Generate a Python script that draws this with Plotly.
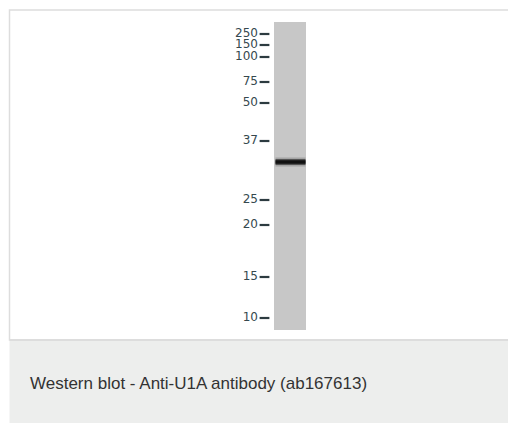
import plotly.graph_objects as go

# Ladder (molecular weight markers, kDa) and their migration distance on the blot
marker_kda = ["250", "150", "100", "75", "50", "37", "25", "20", "15", "10"]
marker_migration = [34, 45, 57, 82, 103, 141, 200, 225, 277, 318]

# Detected band (U1A, ~31 kDa)
band_migration = [162]

lane_start = 22
lane_end = 330

caption = "Western blot - Anti-U1A antibody (ab167613)"

W, H = 508, 423
fig = go.Figure()

# lane
fig.add_trace(go.Bar(x=[290], y=[lane_end - lane_start], base=[lane_start], width=[32],
                     marker=dict(color="#c7c7c7", line=dict(width=0)),
                     hoverinfo="skip", showlegend=False))

# band (soft halo + dark core)
for w, c in [(9, "rgba(60,60,60,0.25)"), (6, "rgba(30,30,30,0.6)"), (3.5, "#111111")]:
    fig.add_trace(go.Scatter(x=[275.5, 305.5], y=band_migration * 2, mode="lines",
                             line=dict(color=c, width=w), hoverinfo="skip", showlegend=False))

# ladder ticks
fig.add_trace(go.Scatter(x=[264.5] * len(marker_migration), y=marker_migration, mode="markers",
                         marker=dict(symbol="line-ew", size=7, line=dict(width=2.2, color="#2c3b40")),
                         hoverinfo="skip", showlegend=False))
# ladder labels
fig.add_trace(go.Scatter(x=[258] * len(marker_migration), y=marker_migration, mode="text",
                         text=marker_kda, textposition="middle left",
                         textfont=dict(family="DejaVu Sans", size=12, color="#35484e"),
                         hoverinfo="skip", showlegend=False))

shapes = [
    dict(type="rect", x0=9.5, x1=W + 5, y0=10, y1=340, line=dict(color="#dddddd", width=1.5),
         fillcolor="rgba(0,0,0,0)", layer="below"),
    dict(type="rect", x0=9.5, x1=W + 5, y0=340.5, y1=H + 5, line=dict(width=0),
         fillcolor="#edeeed", layer="below"),
    dict(type="line", x0=9.5, x1=W + 5, y0=340, y1=340, line=dict(color="#dddddd", width=2)),
]

fig.update_layout(
    width=W, height=H, margin=dict(l=0, r=0, t=0, b=0),
    paper_bgcolor="white", plot_bgcolor="white",
    xaxis=dict(range=[0, W], visible=False, fixedrange=True),
    yaxis=dict(range=[H, 0], visible=False, fixedrange=True),
    shapes=shapes, bargap=0,
    annotations=[dict(x=28, y=383, xref="x", yref="y", text=caption, showarrow=False,
                      xanchor="left", yanchor="middle",
                      font=dict(family="Liberation Sans, Arial", size=17, color="#333333"))],
)

fig.write_html("out.html", config={"displayModeBar": False},
               post_script="document.body.style.margin='0';document.body.style.overflow='hidden';")
